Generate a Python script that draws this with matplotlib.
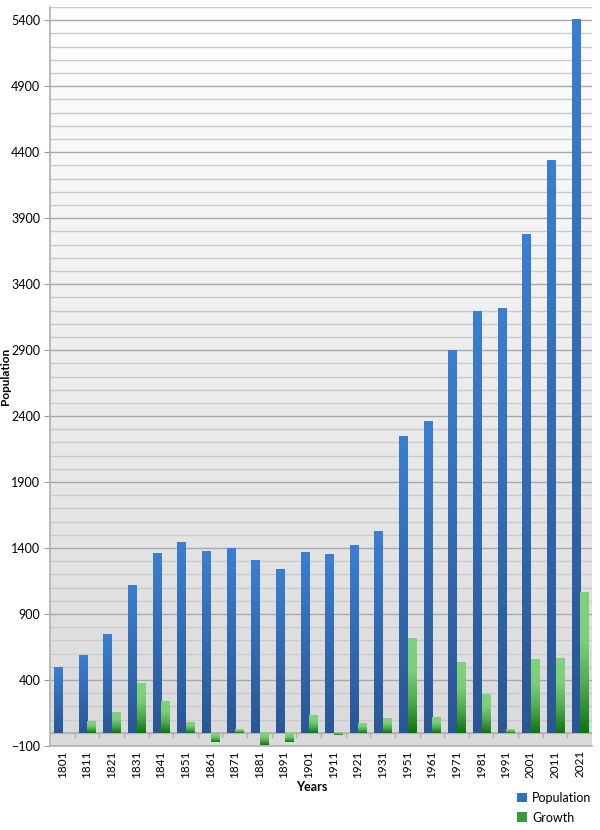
import numpy as np
import matplotlib
matplotlib.use('Agg')
from matplotlib import pyplot as plt
from matplotlib.colors import LinearSegmentedColormap
from matplotlib.ticker import MultipleLocator
from matplotlib.patches import Patch

plt.rcParams['font.family'] = ['Lato', 'DejaVu Sans']

years = ['1801', '1811', '1821', '1831', '1841', '1851', '1861', '1871', '1881', '1891',
         '1901', '1911', '1921', '1931', '1951', '1961', '1971', '1981', '1991', '2001',
         '2011', '2021']
population = [496, 584, 743, 1117, 1357, 1440, 1372, 1395, 1304, 1236,
              1365, 1349, 1420, 1529, 2248, 2362, 2900, 3195, 3218, 3776,
              4337, 5405]
growth = [0, 88, 159, 374, 240, 83, -68, 23, -91, -68,
          129, -16, 71, 109, 719, 114, 538, 295, 23, 558,
          561, 1068]

blue_cmap = LinearSegmentedColormap.from_list('b', ['#2a5694', '#3b7fd0'])
green_cmap = LinearSegmentedColormap.from_list('g', ['#0e730e', '#4fa84f', '#7ccf78', '#80d27c'])

fig = plt.figure(figsize=(6, 8.3), dpi=100)
ax = fig.add_axes([50 / 600, 1 - 746 / 830, 542 / 600, 739 / 830])

x = np.arange(len(years))
w = 0.35
bars_p = ax.bar(x - w / 2 + 0.02, population, w, color='#3a78c8', label='Population', zorder=3)
bars_g = ax.bar(x + w / 2 + 0.02, growth, w, color='#3aa03a', label='Growth', zorder=3)

ax.set_xlim(-0.5, len(years) - 0.5)
ax.set_ylim(-100, 5500)

# background gradient
grad = np.linspace(0, 1, 256).reshape(-1, 1)
bg = LinearSegmentedColormap.from_list('bg', ['#dadada', '#ffffff'])
ax.imshow(grad, extent=[-0.5, len(years) - 0.5, -100, 5500], origin='lower',
          aspect='auto', cmap=bg, zorder=0)

# gradient fill on bars
def shade(bars, cmap):
    for b in bars:
        h = b.get_height()
        b.set_visible(False)
        if h == 0:
            continue
        x0, y0 = b.get_x(), b.get_y()
        x1, y1 = x0 + b.get_width(), y0 + h
        lo, hi = min(y0, y1), max(y0, y1)
        ax.imshow(grad, extent=[x0, x1, lo, hi], origin='lower',
                  aspect='auto', cmap=cmap, zorder=3)

shade(bars_p, blue_cmap)
shade(bars_g, green_cmap)

# gridlines
ax.set_yticks(np.arange(-100, 5401, 500))
ax.yaxis.set_minor_locator(MultipleLocator(100))
ax.grid(axis='y', which='major', color='#a8a8a8', linewidth=1.0, zorder=1)
ax.grid(axis='y', which='minor', color='#cacaca', linewidth=1.0, zorder=1)
ax.set_axisbelow(True)
ax.tick_params(axis='y', which='minor', length=0)
ax.tick_params(axis='y', which='major', length=4, color='#999999', labelsize=9, pad=3)

# category axis at zero
ax.axhline(0, color='#b0b0b0', linewidth=1.2, zorder=2)
for xb in np.arange(0.5, len(years), 1):
    ax.plot([xb, xb], [0, -30], color='#b0b0b0', linewidth=1, zorder=2)

ax.set_xticks(x)
ax.set_xticklabels(years, rotation=90, fontsize=8.5)
ax.tick_params(axis='x', length=0, pad=3)

for s in ['top', 'right']:
    ax.spines[s].set_visible(False)
ax.spines['left'].set_color('#b0b0b0')
ax.spines['left'].set_linewidth(1.2)
ax.spines['bottom'].set_color('#b0b0b0')
ax.spines['bottom'].set_linewidth(1.2)

fig.text(312 / 600, 1 - 787 / 830, 'Years', fontweight='bold', fontsize=9,
         ha='center', va='center')
fig.text(6 / 600, 1 - 376 / 830, 'Population', fontweight='bold', fontsize=8.5,
         ha='center', va='center', rotation=90)

handles = [Patch(facecolor='#3470c0'), Patch(facecolor='#3a9a3a')]
fig.legend(handles, ['Population', 'Growth'], loc='upper left',
           bbox_to_anchor=(517 / 600, 1 - 792 / 830), frameon=False, fontsize=9,
           handlelength=0.8, handleheight=0.8, handletextpad=0.4, labelspacing=0.6,
           borderpad=0, borderaxespad=0)

plt.savefig('out.png', dpi=100)
